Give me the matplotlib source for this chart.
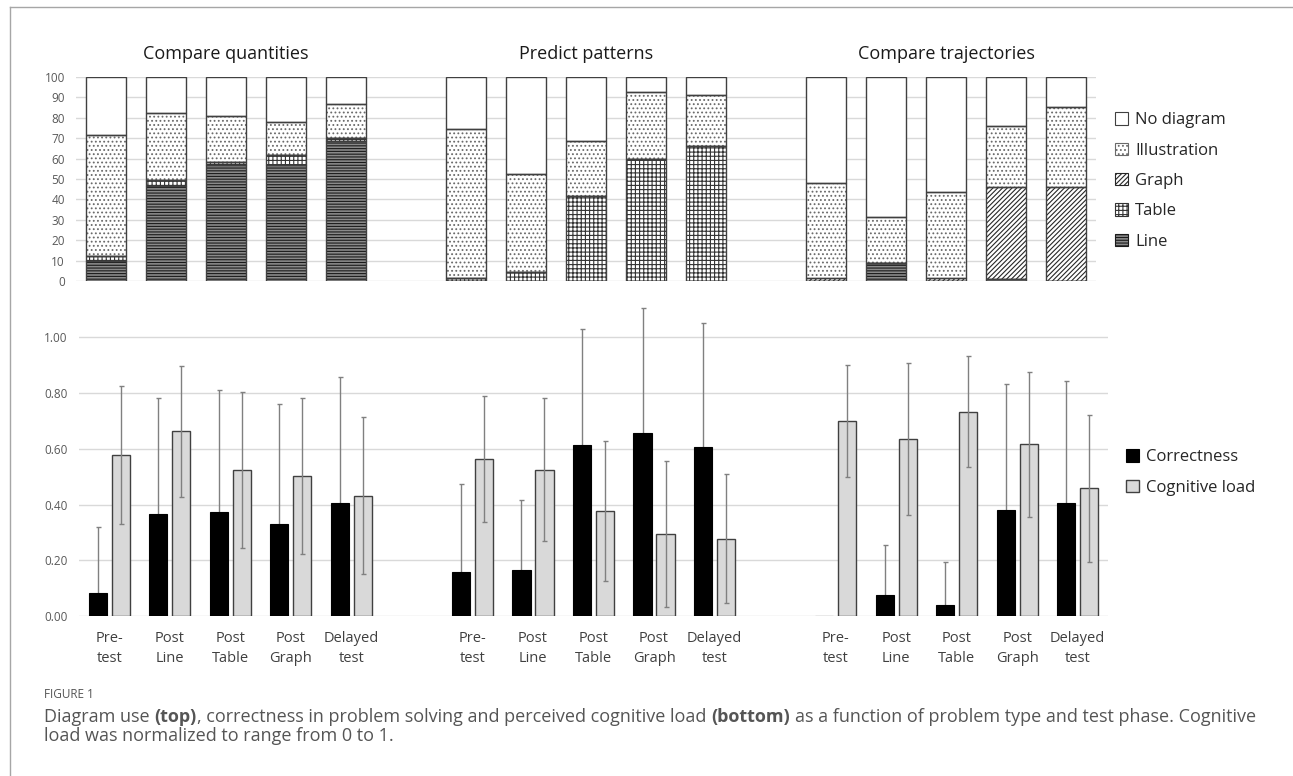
import matplotlib.pyplot as plt
import numpy as np
from matplotlib.patches import Patch
from matplotlib.lines import Line2D

plt.rcParams['font.family'] = ['Open Sans', 'DejaVu Sans']
plt.rcParams['hatch.linewidth'] = 0.8

problems = ['Compare quantities', 'Predict patterns', 'Compare trajectories']
phases = ['Pre-\ntest', 'Post\nLine', 'Post\nTable', 'Post\nGraph', 'Delayed\ntest']

# diagram use in %, 5 phases for each of the 3 problem types
use_line = [10.0, 46.5, 56.8, 56.8, 68.5,
            0, 0, 0, 0, 0,
            0, 9.0, 0, 1.2, 0]
use_table = [2.2, 3.1, 1.4, 4.9, 1.6,
             1.6, 4.6, 41.6, 59.9, 66.1,
             0, 0, 0, 0, 0]
use_graph = [0, 0, 0, 0, 0,
             0, 0, 0, 0, 0,
             1.5, 0, 1.5, 45.0, 46.2]
use_illus = [59.5, 32.8, 22.6, 16.1, 16.8,
             73.0, 47.9, 27.2, 32.8, 24.9,
             46.5, 22.5, 42.1, 30.0, 39.1]
use_none = [28.3, 17.6, 19.2, 22.2, 13.1,
            25.4, 47.5, 31.2, 7.3, 9.0,
            52.0, 68.5, 56.4, 23.8, 14.7]

# correctness and cognitive load (normalized), with SD
correctness = [0.084, 0.367, 0.374, 0.329, 0.404,
               0.159, 0.165, 0.612, 0.658, 0.605,
               0.0, 0.077, 0.038, 0.380, 0.404]
correctness_sd = [0.237, 0.414, 0.437, 0.431, 0.455,
                  0.315, 0.251, 0.417, 0.446, 0.447,
                  0.0, 0.178, 0.157, 0.454, 0.438]
cog_load = [0.577, 0.663, 0.523, 0.501, 0.432,
            0.562, 0.525, 0.376, 0.293, 0.278,
            0.699, 0.636, 0.733, 0.616, 0.458]
cog_load_sd = [0.248, 0.235, 0.280, 0.280, 0.281,
               0.226, 0.257, 0.252, 0.262, 0.232,
               0.200, 0.272, 0.200, 0.260, 0.264]

W, H = 1293, 776
fig = plt.figure(figsize=(W / 100, H / 100), dpi=100)

# 5 bars per problem type, one empty slot between the types
x = np.array([g * 6 + i for g in range(3) for i in range(5)], dtype=float)
tick_col = '#595959'
grid_col = '#d9d9d9'

# ---------- top: diagram use ----------
ax = fig.add_axes([76 / W, 1 - 281 / H, 1020 / W, 204 / H])
layers = [
    ('Line', use_line, '#8a8a8a', '#1a1a1a', '------'),
    ('Table', use_table, 'white', '#333333', '++++'),
    ('Graph', use_graph, 'white', '#262626', '///////'),
    ('Illustration', use_illus, 'white', '#6a6a6a', '....'),
    ('No diagram', use_none, 'white', '#404040', None),
]
bottom = np.zeros(len(x))
handles = []
for name, vals, fc, hc, hatch in layers:
    vals = np.array(vals, dtype=float)
    ax.bar(x, vals, 0.67, bottom=bottom, color=fc, edgecolor=hc,
           hatch=hatch, linewidth=0, zorder=2)
    ax.bar(x, vals, 0.67, bottom=bottom, fill=False, edgecolor='#404040',
           linewidth=1, zorder=3)
    bottom += vals
    handles.append(Patch(facecolor=fc, edgecolor=hc, hatch=hatch,
                         linewidth=0.8, label=name))

ax.set_xlim(-0.5, 16.5)
ax.set_ylim(0, 100)
ax.set_yticks(np.arange(0, 101, 10))
ax.set_xticks([])
ax.tick_params(axis='y', length=0, pad=8, labelsize=8.5, labelcolor=tick_col)
ax.grid(axis='y', color=grid_col, linewidth=1)
ax.set_axisbelow(True)
for s in ax.spines.values():
    s.set_visible(False)

for g, title in enumerate(problems):
    ax.text(g * 6 + 2, 1.112, title, transform=ax.get_xaxis_transform(),
            ha='center', va='center', fontsize=13, color='#1a1a1a')

fig.legend(handles=handles[::-1], loc='center left',
           bbox_to_anchor=(1115 / W, 1 - 181 / H), frameon=False,
           fontsize=12, handlelength=0.75, handleheight=0.75,
           handletextpad=0.45, labelspacing=0.86, borderpad=0,
           borderaxespad=0, labelcolor='#262626')

# ---------- bottom: correctness and cognitive load ----------
ax2 = fig.add_axes([79 / W, 1 - 616 / H, 1029 / W, (616 - 303.9) / H])
cor = np.array(correctness)
cor_sd = np.array(correctness_sd)
cog = np.array(cog_load)
cog_sd = np.array(cog_load_sd)
has = cor > 0
bw, off = 0.3, 0.19
ax2.errorbar(x[has] - off, cor[has], yerr=cor_sd[has], fmt='none',
             ecolor='#808080', elinewidth=1, capsize=1.8, capthick=1,
             zorder=2)
b1 = ax2.bar(x - off, cor, bw, color='black', edgecolor='black',
             linewidth=0.8, zorder=3, label='Correctness')
b2 = ax2.bar(x + off, cog, bw, color='#d9d9d9', edgecolor='#404040',
             linewidth=1, zorder=3, label='Cognitive load')
ax2.errorbar(x + off, cog, yerr=cog_sd, fmt='none', ecolor='#808080',
             elinewidth=1, capsize=1.8, capthick=1, zorder=4)

ax2.set_xlim(-0.5, 16.5)
ax2.set_ylim(0, 1.12)
ax2.set_yticks(np.arange(0, 1.01, 0.2))
ax2.set_yticklabels([f'{v:.2f}' for v in np.arange(0, 1.01, 0.2)])
ax2.set_xticks(x)
ax2.set_xticklabels(phases * 3, linespacing=1.4)
ax2.tick_params(axis='y', length=0, pad=8, labelsize=8.5, labelcolor=tick_col)
ax2.tick_params(axis='x', length=0, pad=11, labelsize=10.5, labelcolor='#404040')
ax2.grid(axis='y', color=grid_col, linewidth=1)
ax2.set_axisbelow(True)
for s in ax2.spines.values():
    s.set_visible(False)

fig.legend(handles=[b1, b2], loc='center left',
           bbox_to_anchor=(1126 / W, 1 - 472.5 / H), frameon=False,
           fontsize=12, handlelength=0.75, handleheight=0.75,
           handletextpad=0.45, labelspacing=0.86, borderpad=0,
           borderaxespad=0, labelcolor='#262626')

# ---------- frame and caption ----------
fig.add_artist(Line2D([9.5 / W, 9.5 / W], [0, 1 - 7 / H], color='#a6a6a6', lw=1))
fig.add_artist(Line2D([9.5 / W, 1], [1 - 7 / H, 1 - 7 / H], color='#a6a6a6', lw=1))

cap_col = '#555555'
fig.text(44 / W, 1 - 695 / H, 'FIGURE 1', fontsize=8.5, color=cap_col, va='center')


def caption_line(pieces, y):
    prev = None
    for txt, weight, gap in pieces:
        if prev is None:
            prev = fig.text(44 / W, 1 - y / H, txt, fontsize=13, color=cap_col,
                            fontweight=weight, va='bottom', ha='left')
        else:
            prev = ax2.annotate(txt, xy=(1, 0), xycoords=prev,
                                xytext=(gap, 0), textcoords='offset points',
                                fontsize=13, color=cap_col, fontweight=weight,
                                va='bottom', ha='left', annotation_clip=False)


caption_line([('Diagram use', 'normal', 0), ('(top)', 'bold', 3.5),
              (', correctness in problem solving and perceived cognitive load', 'normal', 0),
              ('(bottom)', 'bold', 3.5),
              ('as a function of problem type and test phase. Cognitive', 'normal', 3.5)], 726)
caption_line([('load was normalized to range from 0 to 1.', 'normal', 0)], 745)

fig.savefig('out.png', dpi=100)
